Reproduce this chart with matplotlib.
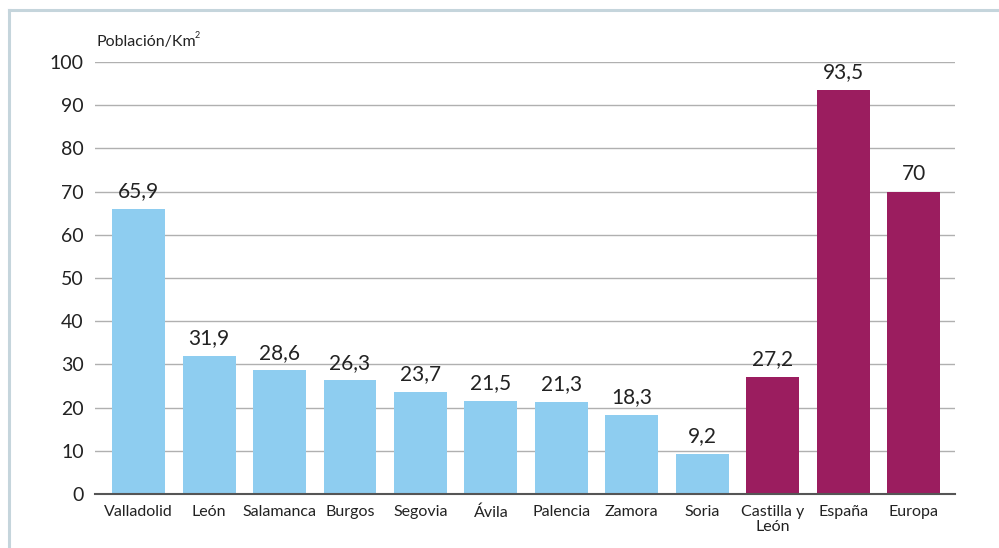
import matplotlib.pyplot as plt
from matplotlib.lines import Line2D

plt.rcParams['font.family'] = ['Lato', 'DejaVu Sans']

categories = ['Valladolid', 'León', 'Salamanca', 'Burgos', 'Segovia', 'Ávila',
              'Palencia', 'Zamora', 'Soria', 'Castilla y\nLeón', 'España', 'Europa']
values = [65.9, 31.9, 28.6, 26.3, 23.7, 21.5, 21.3, 18.3, 9.2, 27.2, 93.5, 70]
labels = ['65,9', '31,9', '28,6', '26,3', '23,7', '21,5', '21,3', '18,3', '9,2',
          '27,2', '93,5', '70']
n_provinces = 9

blue = '#8ECDF0'
purple = '#9B1D5F'
colors = [blue] * n_provinces + [purple] * (len(values) - n_provinces)

fig = plt.figure(figsize=(9.99, 5.48), dpi=100)
ax = fig.add_axes([0.0951, 0.0985, 0.861, 0.7884])

x = range(len(values))
bars = ax.bar(x, values, width=0.75, color=colors, zorder=3)

for xi, v, lab in zip(x, values, labels):
    ax.text(xi, v + 1.8, lab, ha='center', va='bottom', fontsize=15,
            color='#222222')

ax.set_xlim(-0.62, 11.59)
ax.set_ylim(0, 100)
ax.set_yticks(range(0, 101, 10))
ax.tick_params(axis='y', length=0, labelsize=14, pad=8, labelcolor='#222222')
ax.tick_params(axis='x', length=0, labelsize=11.5, pad=8, labelcolor='#222222')
ax.set_xticks(list(x))
ax.set_xticklabels(categories, linespacing=1.05, va='top')

ax.grid(axis='y', color='#b0b0b0', linewidth=1, zorder=0)
for side in ['top', 'right', 'left']:
    ax.spines[side].set_visible(False)
ax.spines['bottom'].set_color('#555555')
ax.spines['bottom'].set_linewidth(1.5)
ax.spines['bottom'].set_zorder(4)

fig.text(97 / 999, 1 - 42 / 548, 'Población/Km', fontsize=11.5,
         ha='left', va='center', color='#222222')
fig.text(195 / 999, 1 - 35 / 548, '2', fontsize=6.5,
         ha='left', va='center', color='#222222')

# light frame round the figure
fig.add_artist(Line2D([9 / 999, 1], [1 - 10 / 548, 1 - 10 / 548],
                      color='#c5d5dc', linewidth=2.2, transform=fig.transFigure))
fig.add_artist(Line2D([9 / 999, 9 / 999], [0, 1 - 10 / 548],
                      color='#c5d5dc', linewidth=2.2, transform=fig.transFigure))

fig.savefig('out.png', dpi=100)
